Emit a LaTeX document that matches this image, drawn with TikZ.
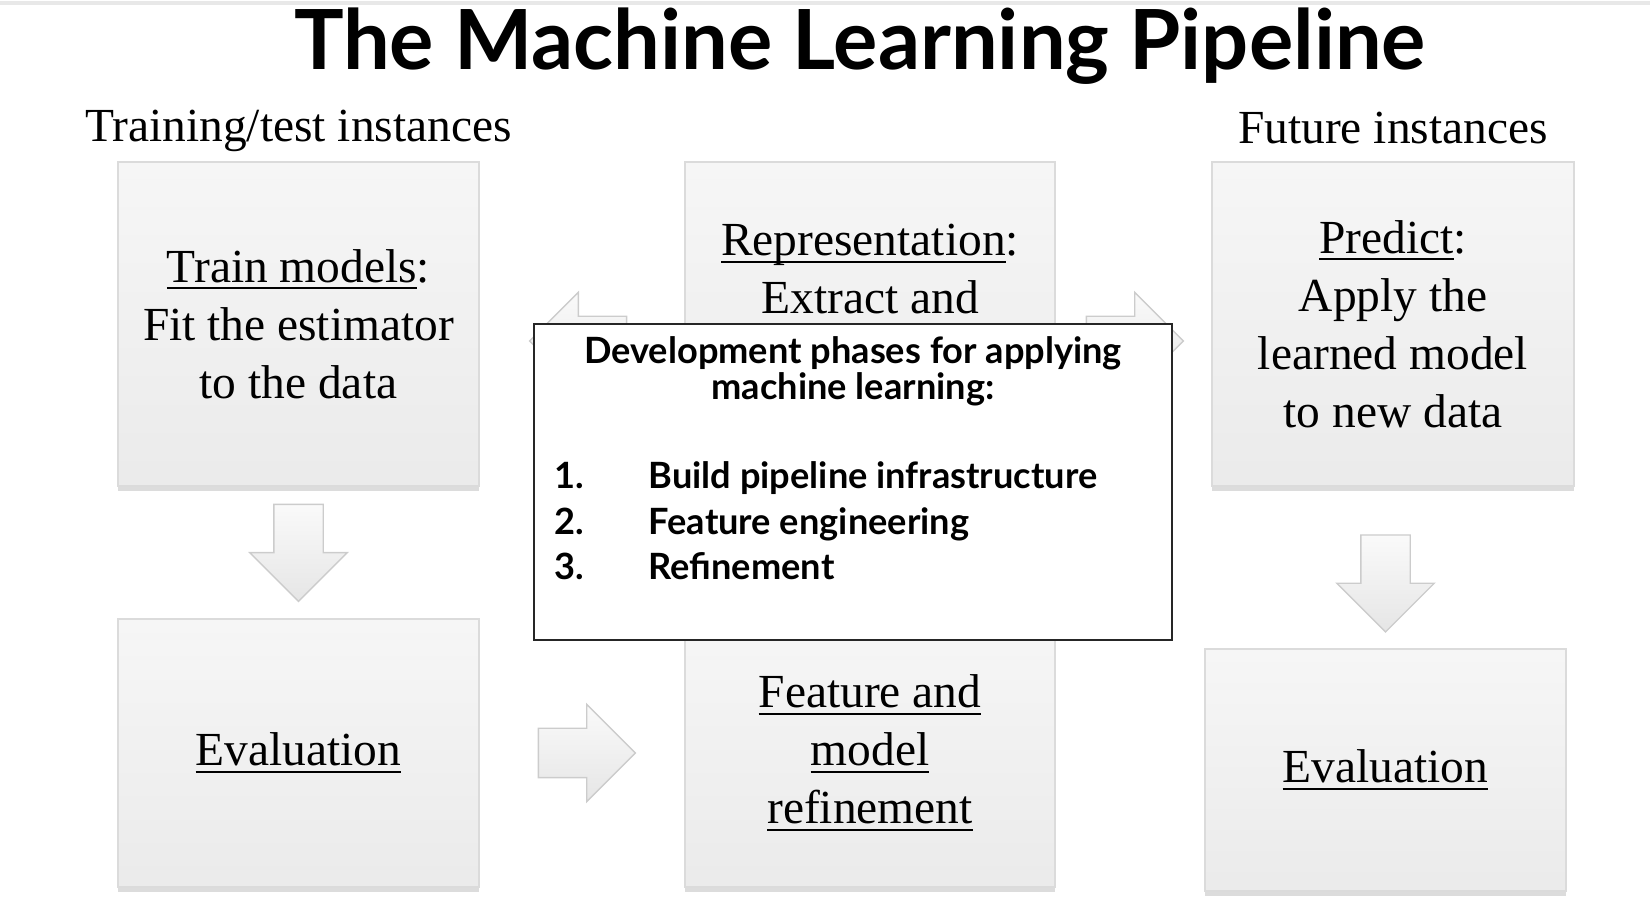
\documentclass[tikz,border=0pt]{standalone}
\usepackage{fontspec}
\setmainfont{Liberation Serif}
\newfontfamily\gill{Lato}
\usetikzlibrary{positioning,calc,shapes.arrows,shadows}
\newlength\ulwd
\newcommand\uln[1]{\settowidth\ulwd{#1}\rlap{\rule[-0.15em]{\ulwd}{0.05em}}#1}
\begin{document}
\begin{tikzpicture}[
 box/.style={rectangle,draw=gray!28,top color=gray!7,bottom color=gray!16,inner sep=0pt,align=center,
  drop shadow={shadow xshift=0pt,shadow yshift=-0.05cm,fill=gray!55,opacity=0.5},font=\fontsize{13.5}{16.5}\selectfont},
 boxtext/.style={inner sep=0pt,align=center,font=\fontsize{13.5}{16.5}\selectfont},
 blk/.style={single arrow,draw=gray!40,top color=gray!4,bottom color=gray!20,minimum height=0.97cm,
  inner sep=0.24cm,single arrow head extend=0.24cm,anchor=tail},
 devtext/.style={inner sep=0pt,font=\gill\bfseries\fontsize{10.3}{11.5}\selectfont}
]
 \useasboundingbox (0,0) rectangle (16.5,9.12);
 \draw[gray!18,line width=1.2pt] (0,9.09)--(16.5,9.09); %上端の線
 \node[font=\gill\bfseries\fontsize{23.6}{27}\selectfont,anchor=base] (title) at (8.60,8.42) {The Machine Learning Pipeline}; %タイトル
 \node[box,minimum width=3.61cm,minimum height=3.24cm] (tl) at (2.985,5.88) {\uln{Train models}:\\Fit the estimator\\to the data}; %学習
 \node[box,minimum width=3.70cm,minimum height=3.24cm] (tm) at (8.70,5.88) {}; %表現
 \node[boxtext,anchor=north] (tmtext) at ($(tm.north)+(0,-0.625)$) {\uln{Representation}:\\Extract and};
 \node[box,minimum width=3.62cm,minimum height=3.24cm] (tr) at (13.93,5.88) {\uln{Predict}:\\Apply the\\learned model\\to new data}; %予測
 \node[box,minimum width=3.61cm,minimum height=2.68cm] (bl) at (2.985,1.59) {\uln{Evaluation}}; %評価
 \node[box,minimum width=3.70cm,minimum height=2.68cm] (bm) at (8.70,1.59) {\uln{Feature and}\\\uln{model}\\\uln{refinement}}; %改良
 \node[box,minimum width=3.61cm,minimum height=2.42cm] (br) at (13.855,1.42) {\uln{Evaluation}}; %評価
 \node[boxtext,anchor=base] (trainlabel) at ($(tl.north)+(0,0.20)$) {Training/test instances};
 \node[boxtext,anchor=base] (futurelabel) at ($(tr.north)+(0,0.18)$) {Future instances};
 \node[blk,rotate=-90] (a1) at ($(tl.south)+(0,-0.17)$) {}; %矢印
 \node[blk,rotate=-90] (a2) at ($(br.north)+(0,1.14)$) {};
 \node[blk] (a3) at ($(bl.east)+(0.58,0)$) {};
 \node[blk,rotate=180] (a4) at ($(tm.west)+(-0.57,-0.17)$) {};
 \node[blk] (a5) at ($(tm.east)+(0.30,-0.17)$) {};
 \node[draw=black!85,line width=0.6pt,fill=white,minimum width=6.38cm,minimum height=3.16cm] (dev) at (8.53,4.30) {}; %枠
 \node[devtext,align=center,anchor=north,font=\gill\bfseries\fontsize{10.3}{10.3}\selectfont] (devhead) at ($(dev.north)+(0,-0.13)$) {Development phases for applying\\machine learning:};
 \foreach \n/\t [count=\i] in {1./Build pipeline infrastructure,2./Feature engineering,3./Refinement}{
  \node[devtext,anchor=base west] (num\i) at ($(dev.north west)+(0.21,-1.66-0.455*\i+0.455)$) {\n};
  \node[devtext,anchor=base west] (item\i) at ($(dev.north west)+(1.15,-1.66-0.455*\i+0.455)$) {\t};
 }
\end{tikzpicture}
\end{document}
